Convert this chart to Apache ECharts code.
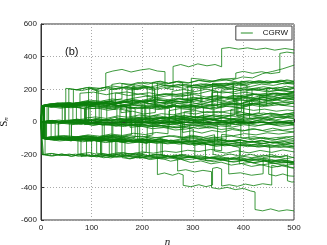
<!DOCTYPE html>
<html>
<head>
<meta charset="utf-8">
<script src="https://cdn.jsdelivr.net/npm/echarts@6/dist/echarts.min.js"></script>
<style>
html,body{margin:0;padding:0;background:#fff;}
#chart{width:327px;height:245px;}
</style>
</head>
<body>
<div id="chart"></div>
<script>
// Each walk: flat list n0,S0, n1,S1, ... (a repeated n is a vertical jump)
const walksOutlier = [
[0,0,3,0,3,100,20,92,38,108,52,98,64,104,64,200,80,192,98,204,112,188,128,196,128,300,142,312,160,322,178,306,196,318,214,326,230,312,245,308,245,205,262,218,284,206,302,224,322,214,340,232,362,222,384,238,406,226,428,246,450,236,472,252,490,240,500,248],
[0,0,2,0,2,100,18,110,36,102,54,116,72,108,92,122,112,110,132,124,152,114,170,126,170,210,190,198,208,212,226,200,244,210,261,198,261,340,276,352,292,338,310,356,328,344,344,352,357,338,357,450,372,456,390,446,408,454,426,444,444,452,462,440,482,450,500,442],
[0,0,5,0,5,100,22,110,40,100,58,116,78,108,98,124,118,114,140,128,140,230,156,238,174,226,192,242,212,232,232,248,252,236,272,250,292,240,312,256,334,246,356,262,385,268,385,300,400,310,418,298,436,308,454,296,472,304,472,420,486,428,500,422],
[0,0,4,0,4,100,20,94,40,106,60,98,82,112,102,104,124,118,146,110,168,126,190,118,210,132,230,126,230,240,248,232,268,246,290,238,312,254,334,244,356,262,376,256,398,276,418,270,438,296,458,310,478,326,500,348],
[0,0,4,0,4,-100,20,-108,40,-98,60,-112,80,-102,100,-116,120,-106,140,-120,160,-110,160,-218,176,-226,194,-212,212,-226,230,-218,230,-322,244,-312,260,-326,272,-314,281,-324,281,-388,296,-396,312,-384,326,-396,339,-386,339,-284,348,-278,357,-288,357,-392,372,-384,388,-394,404,-380,420,-390,438,-378,456,-386,456,-264,468,-274,480,-262,492,-276,500,-280],
[0,0,2,0,2,-100,5,-100,5,-200,20,-192,38,-206,56,-196,74,-210,92,-200,110,-214,130,-202,150,-216,170,-206,190,-220,210,-210,230,-224,250,-214,270,-230,270,-300,286,-292,304,-306,320,-296,337,-304,337,-402,352,-410,368,-400,384,-414,400,-406,414,-422,423,-428,423,-536,438,-544,454,-532,470,-546,486,-538,500,-544],
[0,0,4,0,4,-100,20,-94,40,-106,60,-96,80,-108,100,-98,120,-110,135,-100,150,-104,150,-200,168,-208,186,-196,206,-210,226,-198,246,-214,266,-202,286,-218,306,-206,326,-222,346,-210,366,-226,386,-214,406,-230,426,-218,450,-226,450,-320,464,-330,478,-318,490,-330,500,-332],
[0,0,2,0,2,-100,20,-108,40,-96,60,-110,80,-98,100,-112,120,-100,140,-114,160,-102,180,-116,200,-104,220,-118,240,-106,260,-120,280,-108,300,-122,320,-110,340,-116,340,-198,356,-208,374,-196,394,-210,414,-198,434,-212,454,-200,474,-214,487,-206,487,-360,496,-368,500,-366]
];
const walksUp = [
[0,0,2,0,2,100,17,106,41,97,58,112,83,121,97,109,124,128,151,119,170,137,198,131,222,148,247,139,268,122,295,135,318,147,318,87,342,79,366,96,389,88,415,104,437,93,462,112,481,101,500,118],
[0,0,4,0,4,100,21,93,39,84,62,97,77,91,77,176,104,183,129,167,148,179,173,162,196,171,219,158,244,174,261,166,289,181,311,173,336,192,358,178,383,186,404,203,426,194,451,207,475,199,500,214],
[0,0,1,0,1,100,14,104,33,118,56,109,79,99,101,112,118,106,140,87,163,94,187,81,209,90,231,76,254,84,254,-16,276,-9,299,-22,322,-14,348,2,371,-6,393,11,418,3,440,19,463,12,487,26,500,20],
[0,0,6,0,6,100,26,111,48,104,71,117,93,126,116,114,138,131,160,142,160,236,183,229,205,243,226,237,249,221,272,228,294,214,316,207,340,219,362,203,385,212,407,197,430,206,452,188,476,196,500,184],
[0,0,3,0,3,100,24,96,45,88,67,93,88,79,110,86,132,72,153,81,176,67,176,-33,198,-26,220,-41,243,-34,265,-49,288,-43,309,-28,333,-37,355,-24,378,-31,401,-17,423,-26,446,-12,470,-19,500,-6],
[0,0,2,0,2,100,19,109,37,102,55,96,76,104,99,94,121,101,144,92,166,108,188,99,210,114,233,106,256,121,278,113,300,127,300,213,322,206,346,219,368,211,391,226,414,217,436,232,459,224,481,238,500,231],
[0,0,5,0,5,100,23,107,44,119,65,113,87,124,87,24,108,31,129,22,151,37,172,29,194,43,216,35,238,51,261,44,283,58,306,49,328,64,351,57,373,71,396,63,396,163,418,171,441,162,463,176,486,168,500,179],
[0,0,1,0,1,100,18,92,36,99,59,87,81,95,104,82,126,89,147,76,147,176,169,184,192,171,214,179,236,165,258,174,281,161,303,168,326,153,348,162,371,148,393,157,416,141,438,152,461,137,484,146,500,139],
[0,0,3,0,3,100,28,104,52,96,74,108,99,101,121,113,145,105,169,97,169,-3,191,6,214,-4,236,9,258,1,281,16,304,8,327,22,349,13,372,-2,395,6,418,-9,441,-1,463,-14,486,-7,500,-16],
[0,0,7,0,7,100,29,113,51,106,73,119,96,134,118,127,141,141,163,133,185,147,207,158,229,149,253,162,275,154,297,168,297,268,319,261,343,249,366,257,389,244,412,252,436,238,458,247,481,233,500,241],
[0,0,2,0,2,100,20,94,42,103,64,91,86,84,86,-16,108,-8,131,-19,153,-11,176,-24,198,-15,221,-29,243,-21,266,-36,288,-27,311,-41,333,-32,356,-46,378,-38,401,-53,423,-44,446,-58,468,-49,500,-61],
[0,0,4,0,4,100,25,108,47,114,69,106,92,118,114,111,137,123,159,116,181,128,204,121,226,135,249,127,271,141,294,132,316,146,339,138,339,238,361,231,384,244,406,236,429,249,451,242,474,256,500,247],
[0,0,1,0,1,100,16,108,34,98,52,112,70,104,90,118,110,108,130,116,150,104,150,8,168,18,186,6,206,22,226,14,246,30,266,22,286,38,306,28,324,44,340,38,340,140,358,150,378,140,398,158,418,148,440,166,460,158,480,176,500,170],
[0,0,6,0,6,100,22,94,40,104,58,96,76,108,94,98,110,104,110,200,126,210,146,198,166,212,186,204,206,218,226,208,246,224,266,214,286,230,306,220,326,234,346,222,366,238,386,228,406,246,426,236,446,252,466,242,486,258,500,250],
[0,0,7,0,7,100,22,108,40,98,55,108,55,8,72,18,90,6,108,22,126,12,146,28,166,16,186,32,206,20,226,34,246,22,266,38,280,30,280,-64,298,-54,318,-68,338,-52,358,-62,378,-46,398,-56,418,-40,438,-52,458,-38,478,-50,500,-40],
[0,0,1,0,1,100,18,112,36,104,54,120,72,110,92,126,112,116,132,128,152,118,175,134,195,124,220,140,220,242,236,250,252,238,268,248,280,240,280,138,298,150,318,140,338,156,358,146,378,162,398,152,418,170,438,160,458,178,478,168,500,188],
[0,0,3,0,3,100,20,104,55,112,55,204,70,198,90,210,110,202,130,214,150,204,170,216,190,206,210,214,210,110,228,122,248,112,268,126,288,116,308,130,328,120,348,134,368,122,388,138,408,128,428,142,448,132,468,148,488,140,500,152],
[0,0,2,0,2,100,18,94,36,104,54,92,70,98,70,-12,88,-2,106,-14,124,0,142,-10,160,6,180,-6,200,8,220,-2,240,12,260,2,280,16,300,6,320,20,340,12,360,26,380,16,400,22,400,122,418,132,438,122,458,138,478,128,500,142],
[0,0,2,0,2,100,20,96,40,106,60,98,80,110,100,102,120,116,145,108,165,122,195,112,215,126,240,118,260,130,290,120,290,218,306,228,322,216,340,232,360,222,380,236,380,136,398,146,418,136,438,150,458,140,478,156,500,160]
];
const walksMid = [
[0,0,19,7,38,-4,61,5,83,14,106,3,128,11,150,-3,173,6,195,-7,218,2,240,-11,262,-3,285,-16,307,-6,330,-19,352,-10,375,-24,375,76,397,84,420,71,442,79,465,66,487,74,500,69],
[0,0,22,-6,44,3,66,-9,89,-2,111,-14,134,-6,156,-18,156,82,178,91,201,83,223,96,246,88,268,101,291,93,313,106,336,98,358,112,381,104,403,118,426,109,448,123,471,115,500,128],
[0,0,16,4,35,12,57,3,79,9,101,-2,123,7,146,-4,168,5,190,-7,212,4,235,-8,257,3,279,-10,279,-110,302,-102,324,-115,347,-106,369,-119,392,-111,414,-124,437,-116,459,-129,482,-121,500,-133],
[0,0,24,-3,47,8,69,1,92,13,114,5,137,17,159,10,182,22,204,14,227,27,249,19,272,32,294,24,317,37,339,29,362,42,384,34,407,48,429,40,452,53,474,45,500,57],
[0,0,18,5,37,-6,59,-14,81,-7,103,-19,126,-11,148,-23,170,-16,193,-28,215,-21,238,-33,260,-26,283,-38,283,62,305,70,328,57,350,65,373,52,395,60,418,46,440,55,463,41,485,49,500,43],
[0,0,21,3,43,-8,65,1,88,-10,88,90,110,98,133,89,155,103,178,95,178,-5,200,3,223,-8,245,6,268,-3,290,11,313,2,335,16,358,7,380,21,403,12,425,26,448,17,470,31,500,24],
[0,0,15,-4,33,-12,56,-3,78,-15,101,-7,123,-19,146,-9,168,-22,191,-13,191,-113,213,-106,236,-119,258,-111,281,-124,303,-116,326,-129,348,-120,371,-134,393,-125,416,-139,438,-130,461,-144,483,-136,500,-148],
[0,0,23,9,46,2,68,14,91,6,113,18,136,9,158,22,181,13,203,26,226,17,248,29,271,21,293,34,316,25,338,38,361,29,383,43,383,143,406,151,428,142,451,156,473,147,500,161],
[0,0,17,-5,36,4,58,-7,80,1,102,-11,125,-3,147,-15,170,-6,192,-18,214,-9,237,-22,259,-12,282,-26,304,-16,327,-29,349,-20,349,-120,372,-112,394,-126,417,-117,439,-131,462,-122,484,-136,500,-128],
[0,0,3,0,3,100,22,93,45,106,67,98,90,111,113,103,135,111,158,98,180,107,203,94,225,102,248,89,270,97,293,84,315,92,338,79,338,179,360,186,383,174,405,182,428,169,450,177,473,164,500,172],
[0,0,20,8,40,-2,60,12,76,4,90,14,90,116,108,126,126,116,146,130,166,120,186,136,206,126,226,140,246,130,266,146,286,136,306,150,326,142,346,158,366,148,386,164,406,156,426,172,446,162,466,178,486,170,500,186],
[0,0,22,10,44,0,66,12,88,2,110,16,130,6,150,18,170,8,190,22,210,12,230,26,245,18,245,122,262,132,282,122,302,136,322,126,342,142,362,132,380,146,395,140,395,250,412,242,432,254,452,240,472,250,500,236],
[0,0,16,8,32,0,46,10,60,12,60,-88,76,-96,92,-84,110,-98,130,-88,150,-102,170,-92,190,-106,210,-96,226,-108,240,-104,240,-204,258,-212,276,-200,296,-216,316,-206,336,-222,356,-212,376,-228,396,-218,416,-234,436,-224,456,-240,476,-230,500,-244],
[0,0,10,4,20,2,20,-98,38,-90,56,-102,74,-92,92,-104,110,-94,126,-102,140,-94,140,6,158,16,176,4,196,18,216,8,236,20,256,10,276,24,296,12,316,26,336,16,356,28,376,18,396,30,416,20,436,32,456,22,476,34,500,32],
[0,0,18,-8,36,2,56,-10,76,0,96,-12,116,-2,136,-14,156,-4,176,-16,200,-10,200,88,218,98,236,86,256,100,276,90,296,104,316,92,336,106,356,96,376,110,396,100,416,114,436,102,456,116,476,106,500,116],
[0,0,20,6,40,-4,60,8,80,0,100,10,115,2,130,8,130,108,146,118,164,106,180,116,180,216,198,226,216,214,236,228,256,218,276,232,296,220,316,234,336,224,356,236,380,226,380,126,398,136,418,124,438,140,458,130,478,146,500,150]
];
const walksDown = [
[0,0,2,0,2,-100,21,-107,43,-98,66,-111,88,-103,111,-116,133,-108,156,-121,178,-112,201,-126,223,-117,246,-131,268,-122,291,-136,313,-127,336,-141,358,-133,381,-146,403,-138,426,-151,448,-143,471,-156,500,-149],
[0,0,5,0,5,-100,24,-93,46,-104,69,-96,91,-88,114,-97,136,-83,159,-91,159,9,181,17,204,4,226,12,249,-1,271,7,294,-6,316,2,339,-11,361,-3,384,-16,406,-8,429,-21,451,-13,474,-26,500,-18],
[0,0,1,0,1,-100,18,-108,37,-116,59,-109,82,-121,104,-113,127,-126,149,-118,172,-131,194,-122,194,-222,217,-214,239,-227,262,-219,284,-232,307,-224,329,-238,352,-229,374,-243,397,-235,419,-248,442,-240,464,-253,500,-246],
[0,0,3,0,3,-100,26,-94,48,-83,71,-91,93,-79,116,-87,138,-74,161,-82,183,-69,206,-77,228,-64,251,-72,251,28,273,36,296,23,318,31,341,18,363,26,386,13,408,21,431,8,453,16,476,3,500,11],
[0,0,6,0,6,-100,23,-106,45,-97,68,-109,90,-101,113,-113,135,-104,135,-204,158,-196,180,-209,203,-201,225,-214,248,-206,270,-219,293,-211,315,-224,338,-216,360,-229,383,-221,405,-234,428,-226,450,-239,473,-231,500,-244],
[0,0,2,0,2,-100,19,-92,41,-101,64,-94,86,-106,109,-98,131,-89,154,-97,176,-84,199,-92,221,-79,221,21,244,29,266,17,289,25,311,12,334,20,356,7,379,15,401,2,401,102,424,110,446,97,469,105,500,94],
[0,0,4,0,4,-100,25,-109,47,-102,70,-114,92,-107,115,-119,137,-111,160,-124,182,-116,205,-129,227,-121,250,-134,272,-126,295,-139,317,-131,340,-144,362,-136,385,-149,407,-141,430,-154,452,-146,452,-246,475,-239,500,-252],
[0,0,1,0,1,-100,22,-95,44,-87,67,-96,89,-84,112,-92,134,-81,157,-89,179,-77,179,23,202,31,224,18,247,26,269,13,292,21,314,8,337,16,359,3,382,11,404,-2,427,6,449,-7,472,1,500,-11],
[0,0,7,0,7,-100,27,-108,49,-99,72,-112,94,-104,117,-117,139,-109,162,-122,184,-114,207,-127,229,-119,229,-219,252,-211,274,-224,297,-216,319,-229,342,-221,364,-234,387,-226,409,-239,432,-231,454,-244,477,-236,500,-249],
[0,0,3,0,3,-100,20,-104,42,-96,65,-107,87,-98,110,-91,110,-191,132,-199,155,-187,177,-196,200,-183,222,-191,245,-178,267,-186,290,-173,312,-181,335,-168,357,-176,357,-76,380,-84,402,-71,425,-79,447,-66,470,-74,500,-61],
[0,0,5,0,5,-100,24,-93,46,-102,69,-95,91,-107,114,-99,136,-110,159,-103,181,-115,204,-106,226,-119,249,-111,271,-124,294,-116,294,-16,316,-23,339,-11,361,-19,384,-6,406,-14,429,-1,451,-9,474,4,500,-3],
[0,0,2,0,2,-200,23,-193,45,-205,68,-197,90,-209,90,-109,113,-101,135,-114,158,-106,180,-119,203,-111,225,-124,248,-116,270,-129,293,-121,315,-134,338,-126,360,-139,383,-131,405,-144,428,-136,450,-149,473,-141,500,-154],
[0,0,4,0,4,-100,26,-106,48,-112,71,-104,93,-116,116,-109,138,-121,161,-113,183,-126,206,-118,228,-131,251,-123,273,-136,296,-128,318,-141,341,-133,363,-146,386,-138,408,-151,431,-143,453,-156,476,-148,500,-161],
[0,0,1,0,1,-100,17,-91,38,-84,61,-93,83,-86,106,-98,128,-90,151,-82,173,-94,196,-87,218,-99,241,-91,263,-84,286,-96,308,-88,331,-101,353,-93,376,-86,398,-98,421,-90,443,-103,466,-95,500,-88],
[0,0,2,0,2,-100,18,-108,36,-98,54,-110,72,-100,90,-112,100,-104,100,-202,118,-212,136,-200,156,-214,176,-204,196,-218,216,-206,236,-220,256,-210,276,-224,296,-212,316,-228,336,-216,356,-232,376,-222,396,-236,416,-226,436,-240,456,-230,476,-246,500,-250],
[0,0,2,0,2,-100,18,-108,36,-96,54,-110,74,-98,94,-112,114,-100,134,-114,154,-102,174,-116,195,-108,195,-12,212,-2,230,-14,250,0,270,-12,290,2,310,-10,330,4,350,-8,370,6,390,-6,410,8,430,-4,450,10,470,-2,490,8,500,-4],
[0,0,5,0,5,-100,22,-108,40,-98,60,-112,80,-102,100,-116,120,-106,140,-120,160,-108,180,-122,200,-110,220,-126,240,-114,260,-128,280,-116,300,-132,325,-126,325,-234,342,-244,360,-232,380,-246,400,-236,420,-250,440,-238,460,-254,480,-244,500,-258],
[0,0,3,0,3,-100,8,-100,8,-200,24,-208,42,-196,60,-210,80,-198,100,-212,120,-200,140,-214,160,-202,180,-216,200,-206,200,-104,218,-114,236,-102,256,-116,276,-104,296,-118,316,-106,336,-120,356,-108,376,-122,396,-110,416,-124,436,-112,456,-126,476,-114,500,-118],
[0,0,3,0,3,-200,20,-208,40,-196,60,-210,80,-198,100,-212,120,-200,140,-210,140,-110,158,-120,176,-108,196,-122,216,-110,236,-124,256,-112,276,-126,296,-114,316,-128,336,-116,356,-130,376,-118,396,-132,416,-120,436,-134,456,-122,476,-136,500,-132],
[0,0,2,0,2,-100,20,-108,40,-98,60,-110,80,-100,100,-112,120,-110,120,-210,138,-220,156,-208,176,-224,196,-212,216,-230,236,-220,256,-240,276,-228,296,-248,316,-238,336,-256,356,-246,376,-264,396,-254,416,-272,436,-262,456,-278,476,-268,500,-284]
];
const walksJumpy = [
[0,0,2,0,2,100,13,97,31,109,47,103,47,3,66,-6,84,9,97,14,97,114,115,121,139,108,158,117,158,57,181,66,203,49,226,58,226,158,248,171,271,163,296,178,296,118,318,109,341,127,366,114,389,131,389,31,412,40,437,26,461,44,483,35,500,49],
[0,0,9,0,9,-100,27,-111,44,-103,60,-117,60,-17,83,-8,102,-21,119,-13,119,87,141,79,163,96,186,84,186,-16,209,-27,233,-18,253,-31,253,69,274,82,298,75,321,91,321,-9,343,-20,366,-7,388,-16,411,-3,411,-103,433,-96,457,-112,479,-101,500,-113],
[0,0,12,0,12,100,33,114,49,106,49,206,71,197,92,211,113,193,113,93,137,104,159,91,181,108,181,208,203,219,224,207,224,107,247,96,269,114,291,103,316,119,316,219,338,230,362,217,384,236,407,226,407,126,431,138,454,127,478,145,500,139],
[0,0,4,0,4,-100,19,-92,34,-106,34,-6,56,2,78,-11,99,-3,121,-17,121,-117,143,-107,166,-124,188,-113,210,-131,210,-31,233,-22,256,-37,278,-28,301,-44,301,-144,324,-131,346,-149,369,-139,392,-156,392,-256,414,-247,436,-263,459,-252,481,-266,500,-258],
[0,0,15,0,15,100,38,93,60,101,79,89,79,-11,101,-3,123,-18,146,-7,168,-22,168,78,191,91,214,81,236,99,259,88,259,188,282,199,304,186,327,201,349,188,349,88,372,99,394,86,417,104,417,204,440,216,463,203,485,219,500,211],
[0,0,8,0,8,-100,29,-92,51,-108,73,-97,73,-197,96,-187,118,-203,118,-103,141,-91,163,-106,186,-94,186,6,208,17,231,3,253,15,276,1,276,-99,298,-88,321,-104,343,-91,366,-108,366,-8,389,4,411,-11,434,1,456,-14,478,-3,500,-19],
[0,0,3,0,3,100,26,112,48,101,48,1,71,13,93,4,115,19,115,119,138,108,160,124,183,112,205,129,205,29,228,41,250,27,273,44,295,33,295,133,318,147,341,134,363,151,386,139,386,39,409,52,431,38,454,55,476,43,500,57],
[0,0,11,0,11,-100,34,-109,57,-97,79,-112,79,-212,102,-203,124,-219,147,-206,147,-106,169,-118,192,-104,214,-117,237,-102,237,-202,259,-214,282,-199,304,-213,304,-113,327,-124,349,-109,372,-122,394,-107,394,-207,417,-219,439,-203,462,-217,484,-205,500,-219],
[0,0,21,-6,42,7,42,107,64,98,86,113,108,102,108,2,131,14,153,-1,176,12,176,112,198,124,221,109,243,122,266,107,266,7,288,19,311,4,333,18,356,3,356,103,378,117,401,102,423,116,446,101,446,201,468,213,490,199,500,206],
[0,0,17,6,35,-5,35,-105,58,-96,80,-112,103,-99,125,-114,125,-14,148,-25,170,-11,193,-24,215,-8,215,92,238,81,260,97,283,84,305,99,305,-1,328,-14,350,2,373,-11,395,4,395,-96,418,-109,440,-94,463,-108,485,-92,500,-103],
[0,0,6,0,6,100,24,91,45,104,68,116,90,101,113,114,135,98,135,198,158,211,180,196,203,209,225,193,225,93,248,106,270,91,293,104,315,88,338,101,338,201,361,214,383,199,406,212,428,196,451,209,473,193,500,206],
[0,0,13,-8,28,4,28,-96,51,-108,73,-93,96,-106,118,-91,118,-191,141,-203,163,-188,186,-201,208,-186,208,-86,231,-99,253,-84,276,-97,298,-81,321,-94,343,-78,343,-178,366,-191,388,-176,411,-189,433,-174,456,-186,478,-171,500,-183],
[0,0,5,0,5,100,27,94,49,107,72,98,94,113,94,213,117,206,139,221,162,212,184,228,184,128,207,121,229,137,252,128,274,144,297,135,297,35,319,28,342,44,364,35,387,51,409,42,432,58,432,158,455,151,477,167,500,158],
[0,0,7,0,7,-100,30,-94,52,-109,75,-100,97,-115,120,-106,142,-121,142,-21,165,-28,187,-12,210,-21,232,-5,255,-14,277,2,277,102,300,95,322,111,345,102,367,118,390,109,412,125,412,25,435,18,457,34,480,25,500,41],
[0,0,19,5,38,-7,56,4,56,-96,79,-89,101,-104,124,-95,146,-110,169,-101,191,-116,214,-107,214,-207,236,-200,259,-215,281,-206,304,-221,326,-212,349,-227,371,-218,371,-318,394,-311,416,-326,439,-317,439,-217,461,-210,484,-225,500,-216],
[0,0,2,0,2,100,22,108,41,97,63,111,63,11,86,19,108,6,131,15,153,2,176,11,198,-2,198,98,221,106,243,93,266,102,288,89,311,98,333,85,356,94,356,194,378,202,401,189,423,198,446,185,468,194,500,181],
[0,0,10,0,10,-100,31,-107,53,-95,76,-104,98,-92,121,-101,143,-89,166,-98,166,-198,188,-191,211,-206,233,-197,256,-212,278,-203,278,-103,301,-96,323,-111,346,-102,368,-117,391,-108,413,-123,436,-114,458,-129,481,-120,500,-135],
[0,0,24,7,48,-4,71,9,94,-2,94,98,117,89,139,104,162,93,184,108,207,97,207,-3,229,-12,252,3,274,-8,297,7,319,-4,342,11,342,111,364,102,387,117,409,106,432,121,454,110,477,125,500,114]
];
const xTicks = [0, 100, 200, 300, 400, 500];
const yTicks = [-600, -400, -200, 0, 200, 400, 600];
const seriesName = 'CGRW';
const panelLabel = '(b)';

function toPairs(flat) {
  const out = [];
  for (let i = 0; i < flat.length; i += 2) out.push([flat[i], flat[i + 1]]);
  return out;
}

const allWalks = walksUp.concat(walksMid, walksDown, walksJumpy, walksOutlier);
const series = allWalks.map(w => ({
  name: seriesName,
  type: 'line',
  data: toPairs(w),
  symbol: 'none',
  showSymbol: false,
  silent: true,
  animation: false,
  lineStyle: { color: '#0b7f0b', width: 0.8 },
  itemStyle: { color: '#4aa04a' }
}));

const chart = echarts.init(document.getElementById('chart'));
const axisFont = { fontFamily: 'Liberation Sans', fontSize: 8, color: '#222' };
chart.setOption({
  animation: false,
  backgroundColor: '#fff',
  grid: { left: 41, right: 33, top: 24, bottom: 25, outerBoundsMode: 'none', containLabel: false, show: true, borderColor: '#333', borderWidth: 1, backgroundColor: 'transparent' },
  legend: {
    data: [{ name: seriesName, icon: 'rect', itemStyle: { color: '#4aa04a' } }],
    right: 35, top: 26,
    orient: 'vertical',
    borderColor: '#444', borderWidth: 1, padding: [3, 4, 3, 5],
    itemWidth: 12, itemHeight: 1.2, itemGap: 2,
    backgroundColor: '#fff',
    textStyle: { fontFamily: 'Liberation Sans', fontSize: 8, color: '#111', padding: [0, 0, 0, 5], lineHeight: 8 }
  },
  xAxis: {
    type: 'value', min: xTicks[0], max: xTicks[xTicks.length - 1], interval: 100,
    axisLine: { lineStyle: { color: '#333' } },
    axisTick: { inside: true, length: 3, lineStyle: { color: '#333' } },
    axisLabel: Object.assign({ margin: 4 }, axisFont),
    splitLine: { show: true, lineStyle: { color: '#aaa', type: [1, 2], width: 1 } },
    name: 'n', nameLocation: 'middle', nameGap: 12,
    nameTextStyle: { fontFamily: 'Liberation Serif', fontStyle: 'italic', fontSize: 11, color: '#111' }
  },
  yAxis: {
    type: 'value', min: yTicks[0], max: yTicks[yTicks.length - 1], interval: 200,
    axisLine: { lineStyle: { color: '#333' } },
    axisTick: { inside: true, length: 3, lineStyle: { color: '#333' } },
    axisLabel: Object.assign({ margin: 4 }, axisFont),
    splitLine: { show: true, lineStyle: { color: '#aaa', type: [1, 2], width: 1 } },
    name: '{s|S}{sub|n}', nameLocation: 'middle', nameGap: 23, nameRotate: 90,
    nameTextStyle: {
      rich: {
        s: { fontFamily: 'Liberation Serif', fontSize: 11, color: '#111', verticalAlign: 'bottom', lineHeight: 14 },
        sub: { fontFamily: 'Liberation Serif', fontStyle: 'italic', fontSize: 7, color: '#111', verticalAlign: 'bottom', lineHeight: 10 }
      }
    }
  },
  graphic: [{
    type: 'text', left: 65, top: 46, silent: true,
    style: { text: panelLabel, font: '11px "Liberation Sans"', fill: '#111' }
  }],
  series: series
});
</script>
</body>
</html>
